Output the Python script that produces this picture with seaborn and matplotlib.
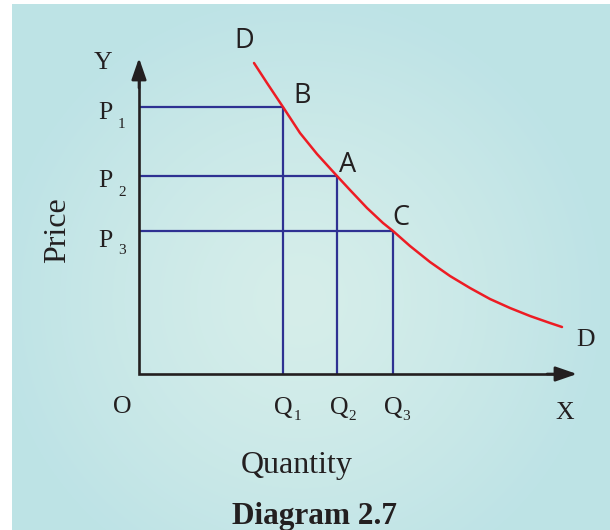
import numpy as np
import seaborn as sns
import matplotlib.pyplot as plt

# demand curve D-D (quantity, price)
curve_q = [11.5, 12.8, 14.4, 16.1, 17.8, 19.8, 21.1, 22.8, 24.4, 25.4,
           27.1, 29.1, 31.1, 33.1, 35.1, 37.1, 39.1, 41.1, 42.3]
curve_p = [31.1, 29.1, 26.7, 24.1, 22.0, 19.8, 18.4, 16.6, 15.1, 14.3,
           12.8, 11.2, 9.8, 8.6, 7.5, 6.6, 5.8, 5.1, 4.7]

# points B, A, C on the curve
point_names = ["B", "A", "C"]
point_q = [14.4, 19.8, 25.4]
point_p = [26.7, 19.8, 14.3]

x_tip = 43.8
y_tip = 31.6

sns.set_theme(style="white")
plt.rcParams['font.family'] = ['Liberation Serif', 'DejaVu Serif']

fig = plt.figure(figsize=(6.1, 5.3), dpi=100)
ax = fig.add_axes([0, 0, 1, 1])
ax.set_xlim(-13.9, 47.1)
ax.set_ylim(-15.6, 37.4)
ax.axis('off')


def px(x, y):
    # pixel position of the reference -> data units
    return (x - 139) / 10, (374 - y) / 10


# background: light teal with a soft lighter centre
gx, gy = np.meshgrid(np.arange(12, 610), np.arange(4, 530))
r = np.sqrt((gx - 300) ** 2 + (gy - 300) ** 2) / 300
t = np.clip(r, 0, 1) ** 1.3
edge = np.array([190, 227, 230]) / 255
centre = np.array([214, 238, 234]) / 255
img = centre + (edge - centre) * t[..., None]
x0, y0 = px(12, 4)
x1, y1 = px(610, 530)
ax.imshow(img, extent=(x0, x1, y1, y0), origin='upper', aspect='auto', zorder=0)

# guide lines from the axes to each point
blue = '#2e3192'
ax.hlines(point_p, 0, point_q, color=blue, lw=1.6, zorder=2)
ax.vlines(point_q, 0, point_p, color=blue, lw=1.6, zorder=2)

# demand curve
sns.lineplot(x=curve_q, y=curve_p, sort=False, color='#ed1c24', lw=1.8,
             ax=ax, zorder=4)

# axes with arrows
black = '#231f20'
ax.plot([0, 0, x_tip - 1.5], [y_tip - 1.5, 0, 0], color=black, lw=1.9,
        solid_joinstyle='miter', zorder=3)
arrow = dict(arrowstyle='-|>,head_length=1.3,head_width=0.45', mutation_scale=10,
             lw=1.9, color=black, shrinkA=0, shrinkB=0)
ax.annotate('', xy=(x_tip, 0), xytext=(x_tip - 3, 0), arrowprops=arrow, zorder=3)
ax.annotate('', xy=(0, y_tip), xytext=(0, y_tip - 3), arrowprops=arrow, zorder=3)

txt = '#231f20'
sans = ['Open Sans', 'DejaVu Sans']

# curve and point letters
ax.text(*px(244, 48), "D", family=sans, fontsize=19.5, ha='center', va='baseline', color=txt)
for name, (lx, ly) in zip(point_names, [(302, 103), (348, 172), (401, 225)]):
    ax.text(*px(lx, ly), name, family=sans, fontsize=19.5, ha='center',
            va='baseline', color=txt)
ax.text(*px(586, 346), "D", fontsize=18.5, ha='center', va='baseline', color=txt)

# axis letters
ax.text(*px(103, 69), "Y", fontsize=18.5, ha='center', va='baseline', color=txt)
ax.text(*px(122, 413), "O", fontsize=18.5, ha='center', va='baseline', color=txt)
ax.text(*px(565, 419), "X", fontsize=18.5, ha='center', va='baseline', color=txt)

# price levels
for i, (base, sub) in enumerate([(119, 128), (187, 196), (247, 254)]):
    ax.text(*px(105, base), "P", fontsize=18.5, ha='center', va='baseline', color=txt)
    ax.text(*px(118, sub), str(i + 1), fontsize=11, ha='left', va='baseline', color=txt)

# quantity levels
for i, (qx, sx) in enumerate([(283, 297), (339, 352), (393, 406)]):
    ax.text(*px(qx, 414), "Q", fontsize=18.5, ha='center', va='baseline', color=txt)
    ax.text(*px(sx, 420), str(i + 1), fontsize=11, ha='center', va='baseline', color=txt)

# titles
ax.text(*px(297, 473), "Quantity", fontsize=23, ha='center', va='baseline', color=txt)
ax.text(*px(58, 230), "Price", fontsize=23, ha='center', va='center',
        rotation=90, color=txt)
ax.text(*px(314, 524), "Diagram 2.7", fontsize=22.5, fontweight='bold',
        ha='center', va='baseline', color=txt)

fig.savefig('out.png', dpi=100)
